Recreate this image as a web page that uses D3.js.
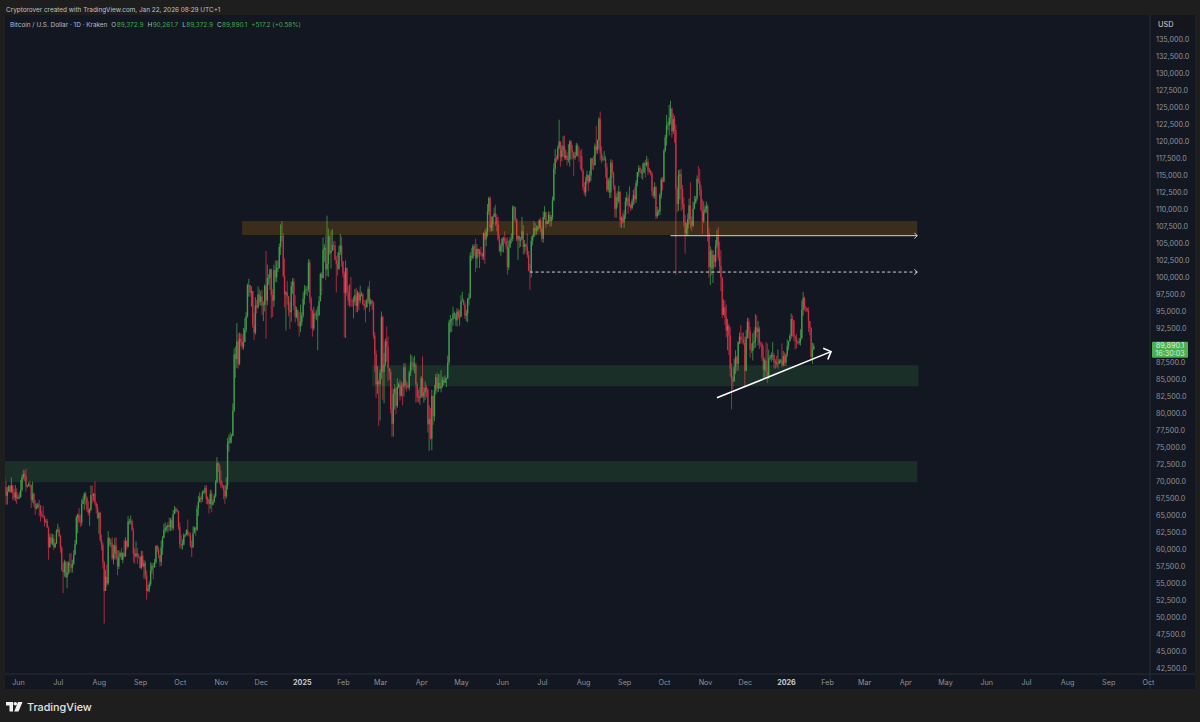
<!DOCTYPE html>
<html>
<head>
<meta charset="utf-8">
<script src="https://cdn.jsdelivr.net/npm/d3@7"></script>
<style>
  html, body { margin: 0; padding: 0; background: #1e1e1e; }
  svg { display: block; }
  text { font-family: Inter, Roboto, sans-serif; }
</style>
</head>
<body>
<svg id="chart" width="1200" height="722"></svg>
<script>
// daily candles in thousands of USD, first candle is 22 May 2024, one line per month
const firstDay = '2024-05-22';
const closes = [
  69.1,67.9,68.5,69.3,68.5,69.4,68.4,67.6,68.4,67.5,
  67.7,67.7,68.8,70.6,71.1,70.8,69.3,69.3,69.6,69.5,67.3,68.2,66.7,66.0,66.2,66.6,66.5,65.2,64.9,64.8,64.1,64.2,63.2,60.3,61.8,60.9,61.6,60.3,60.9,62.7,
  62.9,62.0,60.2,57.0,56.7,58.2,55.9,56.7,58.0,57.7,57.3,57.9,59.2,60.8,64.7,65.1,64.1,64.0,66.7,67.2,68.2,67.6,65.9,65.4,65.8,68.0,67.9,68.2,66.8,66.2,64.6,
  65.4,61.4,60.7,58.1,53.9,56.0,55.0,61.7,60.9,60.9,58.7,59.4,60.6,58.7,57.5,58.9,59.5,58.5,59.5,59.0,61.2,60.4,64.1,64.2,64.2,62.8,59.4,59.0,59.4,59.1,58.9,
  57.3,59.1,57.5,58.0,56.2,53.9,54.2,54.9,57.0,57.6,57.4,58.1,60.5,60.0,59.2,58.2,60.3,61.7,62.9,63.2,63.3,63.6,63.3,64.3,63.1,65.2,65.8,65.9,65.6,63.3,
  60.8,60.6,60.7,62.1,62.1,62.8,62.2,62.1,60.6,60.3,62.4,63.2,62.9,66.0,67.0,67.6,67.4,68.4,68.4,69.0,67.4,67.4,66.7,68.2,66.6,67.0,67.9,69.9,72.7,72.3,70.2,
  69.5,69.3,68.7,67.8,69.4,75.6,75.9,76.5,76.7,80.4,88.7,88.0,90.6,87.3,91.0,90.6,89.8,90.5,92.3,94.3,98.9,98.9,97.8,98.0,93.0,91.9,95.9,95.6,97.5,96.4,
  97.2,95.9,96.0,98.8,96.6,99.9,99.9,101.2,97.4,96.6,101.1,100.0,101.4,101.4,104.5,106.1,106.1,100.2,97.5,97.8,97.2,95.2,94.9,98.7,99.4,95.8,94.2,95.2,93.6,92.8,93.4,
  94.4,96.9,98.1,98.2,98.3,102.2,96.9,95.1,92.5,94.7,94.5,94.5,94.5,96.5,100.5,99.9,104.1,104.4,101.2,102.0,106.1,103.6,103.9,104.8,104.7,102.6,102.0,101.3,103.7,104.7,102.4,
  100.6,97.7,101.4,97.8,96.6,96.6,96.5,96.4,96.5,97.4,95.8,97.8,96.6,97.5,97.5,96.1,95.8,95.6,96.6,98.3,96.1,96.6,96.3,91.5,88.7,84.3,84.7,84.3,
  86.0,94.2,86.1,87.2,90.6,89.9,86.7,86.1,80.6,78.5,82.9,83.7,81.1,83.9,84.3,82.6,84.0,83.9,86.8,84.2,84.0,83.8,86.0,87.5,87.5,86.9,87.2,84.3,82.4,82.3,82.5,
  85.2,82.5,83.1,83.8,83.5,78.4,79.2,76.3,82.6,79.6,83.4,85.3,83.7,84.5,83.7,84.0,84.9,84.5,85.1,85.2,87.5,93.4,93.7,93.9,94.7,94.7,93.7,95.0,94.2,94.2,
  96.5,96.6,96.0,94.4,94.7,96.8,97.0,103.2,102.9,104.6,104.1,102.8,104.2,103.5,103.7,103.5,103.1,106.5,105.6,106.8,109.7,111.7,107.3,107.8,108.9,109.4,108.9,107.8,105.6,103.9,104.6,
  105.7,105.8,105.4,104.7,101.5,104.4,105.6,105.7,110.3,110.3,108.6,105.6,106.1,105.4,105.6,106.8,104.5,104.9,104.6,103.3,101.0,100.9,105.4,106.0,107.3,106.9,107.1,107.4,108.4,107.1,
  105.7,108.9,109.6,107.9,108.2,109.2,108.3,108.9,111.3,116.0,117.5,117.4,119.1,120.0,117.7,118.7,119.3,117.6,117.9,117.3,117.4,120.0,118.7,118.4,117.6,117.9,119.4,118.0,117.9,117.8,115.7,
  113.3,112.5,114.2,115.1,114.1,115.0,117.5,116.7,116.5,119.3,118.7,120.2,123.3,118.3,117.4,117.4,117.5,116.2,112.9,114.3,112.5,116.9,115.4,113.5,110.1,111.8,111.2,112.6,108.4,108.8,108.2,
  109.2,111.2,111.7,110.7,110.7,110.2,111.2,112.1,111.5,113.9,115.5,116.1,115.9,115.3,115.4,116.8,116.5,117.0,115.7,115.7,115.3,112.7,112.0,113.3,109.0,109.7,109.7,112.1,114.4,114.1,
  118.6,120.6,122.3,122.4,123.5,124.8,121.5,123.3,121.7,113.0,110.8,115.0,115.2,113.0,110.8,108.2,106.5,107.2,108.6,110.6,108.4,107.6,110.1,111.0,111.6,114.5,114.1,112.9,110.0,108.3,109.6,
  110.1,110.5,106.5,101.5,103.9,101.3,103.3,102.3,104.7,106.0,103.0,101.7,100.0,94.5,95.6,94.2,92.2,92.9,91.5,86.6,85.1,84.7,86.8,88.3,87.3,90.5,91.3,90.9,90.8,90.4,
  86.3,91.3,93.5,92.1,89.4,89.2,90.4,90.6,92.7,92.0,92.5,90.3,90.2,88.2,86.4,87.8,86.1,85.5,88.1,88.3,88.6,88.6,87.5,87.6,87.2,87.3,87.8,87.8,87.1,88.4,87.5,
  88.7,89.9,90.6,91.4,93.9,93.7,91.3,91.0,90.5,90.4,90.6,91.1,95.3,97.0,95.6,95.5,95.1,93.6,92.6,88.3,89.4,89.9
];
const highs = [
  70.6,70.0,69.2,69.5,69.5,70.6,69.5,68.9,69.5,69.0,
  68.0,68.4,70.2,71.0,71.7,71.6,71.9,69.5,69.9,70.1,69.5,70.0,68.4,67.3,66.8,66.9,67.3,66.5,65.7,66.4,65.0,64.5,64.5,63.4,62.3,62.4,62.3,62.2,61.0,63.0,
  63.8,63.3,62.2,60.5,58.0,58.5,58.3,58.2,58.3,59.4,59.5,58.5,59.9,61.4,65.0,65.3,66.1,65.1,67.4,67.8,68.4,68.5,67.8,67.1,66.1,69.4,69.4,68.3,70.0,67.0,66.7,
  65.6,65.5,62.2,61.0,58.3,57.0,57.8,62.7,61.8,61.5,61.8,60.7,61.7,61.8,59.9,59.9,59.7,60.2,59.6,61.4,61.8,61.4,64.9,64.5,65.0,64.4,63.2,60.2,61.2,60.2,59.4,
  58.9,59.8,59.8,58.5,58.3,56.9,54.8,55.3,58.1,58.0,58.0,58.6,60.6,60.7,60.4,59.2,61.3,62.0,63.8,64.0,63.5,64.0,64.7,64.6,64.8,65.8,66.4,66.2,66.0,65.7,
  64.0,62.2,61.5,62.4,62.3,63.0,64.4,62.6,62.5,61.3,63.4,63.4,63.3,66.5,67.9,68.4,67.9,68.7,68.7,69.4,69.5,67.8,67.4,68.8,68.7,67.4,68.2,70.2,73.6,72.9,72.6,
  71.6,70.0,69.5,69.5,70.6,76.4,76.9,77.2,77.0,81.5,89.6,89.9,93.3,91.8,91.9,91.8,91.7,92.6,94.0,94.9,99.1,99.8,98.8,98.7,94.6,94.8,97.1,96.7,98.7,98.3,
  98.0,98.2,96.5,99.0,103.9,101.9,100.5,101.3,101.3,98.3,101.9,102.5,102.5,102.5,105.0,107.8,108.3,106.5,102.8,98.0,99.5,97.3,96.4,99.4,99.9,99.9,97.4,95.7,95.3,94.9,96.0,
  94.9,97.8,98.9,98.7,98.8,102.7,102.6,97.2,95.3,95.7,95.0,95.3,95.8,97.3,100.7,100.8,105.9,104.9,106.2,109.1,107.2,106.3,106.9,107.1,105.3,105.4,103.2,103.7,104.7,106.4,106.0,
  102.0,100.9,102.5,101.5,98.8,99.0,100.1,96.9,97.2,98.3,98.5,98.1,97.2,98.8,97.9,97.7,96.7,96.7,96.9,98.7,99.5,96.9,96.7,96.5,92.0,89.3,87.0,85.0,
  86.5,95.0,94.4,88.9,91.0,92.8,91.3,86.7,86.5,84.0,83.6,84.3,84.0,85.2,84.6,85.0,84.7,84.5,87.4,87.4,84.8,84.5,86.3,88.7,88.5,88.2,88.5,87.5,84.6,83.5,83.9,
  85.5,88.4,83.9,84.7,84.2,83.8,81.2,80.8,83.5,82.6,84.2,85.8,86.0,85.8,85.8,86.4,85.4,85.4,85.6,85.3,88.5,93.8,94.5,94.0,95.7,95.0,94.3,95.5,95.4,95.2,
  97.4,97.9,96.9,96.3,95.2,97.0,97.7,103.7,104.3,104.9,104.9,105.7,104.9,104.3,104.2,104.5,103.6,106.6,107.0,107.3,110.8,111.9,111.9,109.0,109.1,110.3,110.7,109.3,108.9,106.3,105.0,
  105.9,106.0,106.8,105.9,105.9,105.4,106.0,106.5,110.6,110.5,110.4,108.7,106.2,106.2,106.0,108.9,107.7,105.5,105.0,106.5,103.9,102.0,106.1,106.3,108.3,108.0,107.7,107.6,108.6,108.8,
  107.5,109.7,110.5,109.7,108.4,109.7,109.7,109.2,111.9,116.8,118.9,118.0,119.4,123.2,120.0,119.5,120.8,120.9,118.8,118.4,119.6,120.2,120.2,119.5,118.4,118.5,119.8,119.7,119.2,118.7,118.9,
  116.0,114.0,114.8,115.7,115.1,115.7,117.6,117.6,117.9,119.7,122.3,120.3,123.6,124.4,119.3,117.9,118.6,117.9,116.8,114.6,114.8,117.4,117.3,115.6,113.6,112.4,112.7,113.5,112.7,109.0,109.5,
  109.9,111.8,112.6,112.2,113.4,110.9,111.6,112.9,113.3,114.3,115.5,116.5,116.4,116.0,116.8,117.0,117.3,117.9,117.5,116.1,115.8,115.5,113.3,114.0,113.5,110.4,110.0,112.4,114.7,114.8,
  118.9,121.0,123.9,122.9,125.4,126.0,125.0,124.1,123.8,122.5,113.4,115.8,115.9,116.0,113.6,111.8,109.2,108.0,109.4,111.6,114.0,109.0,111.2,112.0,112.0,115.0,116.4,116.0,113.6,111.5,111.2,
  110.6,111.2,110.8,107.3,104.6,104.2,104.0,103.4,105.5,107.0,107.4,105.3,104.0,99.9,96.8,96.6,96.0,93.9,93.2,92.7,87.4,85.5,88.0,89.3,88.5,90.6,91.9,93.0,91.9,91.9,
  91.3,92.3,94.1,94.0,92.7,90.3,91.8,92.2,94.6,94.4,93.6,92.8,90.6,90.5,90.0,88.2,90.5,90.3,89.4,88.6,89.0,90.5,88.9,88.0,88.5,89.4,88.0,88.0,90.3,89.2,89.0,
  88.8,90.9,90.7,91.7,94.7,94.4,93.6,91.5,91.7,90.7,91.1,92.4,96.6,97.9,97.2,95.8,95.5,95.6,93.4,92.7,90.4,90.3
];
const lows = [
  69.0,66.6,66.6,68.5,68.3,68.3,67.3,67.2,67.1,66.7,
  67.4,67.4,67.6,68.5,70.3,70.1,68.5,69.1,69.3,69.1,66.1,66.9,66.3,65.1,65.9,66.1,64.9,64.1,64.7,64.6,63.4,63.9,63.2,58.5,60.6,60.7,60.6,59.9,60.3,60.8,
  62.5,61.8,59.5,56.8,53.6,56.0,55.8,54.3,56.3,56.5,56.6,56.6,57.7,59.5,60.7,62.4,63.9,63.3,63.5,66.7,65.8,66.6,65.5,65.0,63.5,65.7,66.8,67.1,66.5,65.3,64.5,
  62.3,61.1,59.9,57.2,49.1,53.9,54.6,54.8,60.5,60.3,58.4,57.8,58.5,58.5,56.2,57.1,58.9,58.5,58.0,58.8,58.9,60.0,60.3,63.7,63.7,62.8,58.1,57.9,58.8,57.9,58.7,
  57.2,57.1,57.4,55.7,55.6,52.6,53.8,53.7,54.6,56.4,55.6,57.3,57.9,59.6,58.7,57.5,57.6,59.2,61.8,62.4,62.7,62.5,62.7,62.7,62.8,62.8,65.2,65.4,65.5,62.9,
  60.2,60.0,60.0,60.6,61.8,62.1,62.0,61.9,60.3,58.9,60.3,62.5,62.0,62.7,64.9,66.9,66.8,67.0,68.2,68.1,66.7,66.6,65.3,66.0,65.5,66.5,66.9,67.6,69.7,71.4,69.7,
  69.0,69.0,67.4,66.7,67.5,68.8,74.4,75.6,75.6,76.7,80.2,85.2,86.7,86.6,87.1,90.0,89.4,89.4,90.9,91.9,94.1,97.2,97.2,95.7,92.6,90.8,91.6,94.7,95.4,96.0,
  95.8,94.5,93.6,95.0,91.0,95.9,98.9,98.2,94.0,94.2,95.7,99.3,99.3,100.8,101.3,103.3,105.3,100.0,95.6,92.2,96.0,94.3,92.4,93.5,97.6,95.2,93.4,94.0,92.9,91.3,92.0,
  92.9,94.1,96.0,97.5,97.3,97.9,96.2,92.5,91.3,92.2,93.9,93.7,89.3,94.3,96.5,97.4,100.2,102.3,99.6,100.2,100.1,103.3,101.3,103.9,104.0,102.5,97.8,100.3,101.1,103.3,101.6,
  100.0,91.2,91.1,97.3,95.9,95.7,95.7,95.7,94.0,95.9,94.9,94.9,95.2,96.2,97.2,95.9,95.2,93.4,95.6,96.2,94.9,95.8,95.2,91.0,86.1,82.3,82.9,78.2,
  79.0,85.1,82.0,81.5,86.9,87.6,84.8,85.0,80.0,76.6,76.6,80.6,79.9,80.8,83.7,81.9,82.5,81.2,82.5,83.6,83.2,83.7,83.4,85.5,86.4,86.3,85.9,81.6,81.7,81.6,81.3,
  82.3,82.3,81.6,82.0,82.4,77.2,74.5,76.2,74.6,78.3,78.9,82.8,83.1,83.2,83.6,83.1,83.8,84.1,84.5,83.9,85.1,87.1,91.9,92.0,92.9,93.9,92.9,92.8,93.9,92.9,
  94.2,96.4,95.9,93.9,93.6,93.4,95.9,96.9,102.4,102.7,103.2,100.8,101.4,103.0,101.4,103.1,102.6,102.6,102.0,104.6,106.0,109.2,106.7,106.8,106.8,108.9,107.6,106.8,105.4,103.7,103.2,
  103.7,103.7,105.0,104.2,100.4,101.1,104.9,105.0,105.3,108.3,108.1,105.3,102.6,104.3,104.5,105.5,103.4,103.5,103.9,102.9,100.9,98.2,100.0,104.7,105.9,106.2,106.3,106.8,107.2,106.7,
  105.2,105.1,108.5,107.3,107.8,107.9,107.5,107.5,108.4,111.3,115.2,116.9,117.2,118.9,116.3,117.1,117.8,117.3,117.3,116.5,116.9,116.3,117.3,117.4,114.9,117.3,117.8,117.7,117.0,115.9,115.6,
  112.8,112.1,111.9,113.7,112.7,113.9,114.2,115.9,115.8,116.5,118.1,118.2,118.9,117.2,116.8,117.1,117.2,114.7,112.6,112.5,111.7,111.7,114.7,112.9,108.8,108.8,110.3,110.9,107.4,107.3,107.9,
  107.3,108.6,110.5,109.4,110.4,109.8,110.0,110.6,110.8,111.0,113.4,114.8,115.3,114.6,114.4,115.4,114.7,116.3,115.1,115.4,115.0,112.0,111.6,111.6,108.6,108.7,109.1,109.2,111.6,112.8,
  114.0,118.4,119.4,121.7,120.9,122.5,120.6,121.1,119.8,100.4,109.6,109.8,111.5,109.8,110.0,107.5,103.5,106.2,106.1,107.8,107.2,106.8,107.4,110.0,110.8,111.3,113.8,112.0,109.7,106.4,108.0,
  109.4,109.5,105.3,100.0,98.9,100.3,99.2,101.5,101.5,104.3,102.5,100.7,98.0,94.0,94.6,93.0,91.2,89.3,88.6,85.4,80.6,83.5,85.2,85.8,86.2,86.3,90.2,90.2,90.3,90.1,
  83.9,86.2,91.0,91.0,88.2,88.9,87.8,89.5,89.7,91.2,90.0,89.5,89.8,87.7,85.2,85.3,85.3,84.5,85.1,87.9,87.6,87.9,86.6,86.6,86.8,86.6,87.3,87.4,86.8,86.9,87.0,
  87.0,88.3,89.3,90.6,91.0,91.3,90.6,89.4,89.6,90.2,90.1,90.0,90.9,94.4,95.1,94.9,94.9,92.0,91.5,87.8,87.3,89.4
];

const priceTicks = [135000,132500,130000,127500,125000,122500,120000,117500,115000,112500,110000,107500,105000,102500,100000,97500,95000,92500,87500,85000,82500,80000,77500,75000,72500,70000,67500,65000,62500,60000,57500,55000,52500,50000,47500,45000,42500];
const monthTicks = ['2024-06-01','2024-07-01','2024-08-01','2024-09-01','2024-10-01','2024-11-01','2024-12-01','2025-01-01','2025-02-01','2025-03-01','2025-04-01','2025-05-01','2025-06-01','2025-07-01','2025-08-01','2025-09-01','2025-10-01','2025-11-01','2025-12-01','2026-01-01','2026-02-01','2026-03-01','2026-04-01','2026-05-01','2026-06-01','2026-07-01','2026-08-01','2026-09-01','2026-10-01'];

// drawings on the chart, in dates and prices
const zones = [
  { from: '2024-11-17', to: '2026-04-10', top: 108300, bottom: 106250, fill: '#ff9800', op: 0.17 },
  { from: '2025-02-23', to: '2026-04-11', top: 87100, bottom: 84000, fill: '#4caf50', op: 0.16 },
  { from: '2024-05-20', to: '2026-04-10', top: 73000, bottom: 69900, fill: '#4caf50', op: 0.16 }
];
const rays = [
  { from: '2025-10-06', to: '2026-04-10', price: 106150, dash: null },
  { from: '2025-06-22', to: '2026-04-10', price: 100800, dash: '3,2.5' }
];
const trend = { from: '2025-11-10', to: '2026-02-04', p0: 82300, p1: 89100 };

const lastPrice = '89,890.1';
const countdown = '16:30:03';
const ohlc = [['O','89,372.9'],['H','90,261.7'],['L','89,372.9'],['C','89,890.1']];

const W = 1200, H = 722;
const panel = { left: 5, right: 1150, top: 15, bottom: 674, axisRight: 1195, axisBottom: 689 };

const bull = '#46a850', bear = '#e0304a';
const svg = d3.select('#chart');

const parse = d3.utcParse('%Y-%m-%d');
const x = d3.scaleUtc().domain([parse('2024-06-01'), parse('2026-10-01')]).range([18, 1148]);
const y = d3.scaleLinear().domain([42500, 135000]).range([668.5, 39.5]);

const start = parse(firstDay);
const candles = closes.map((c, i) => {
  const open = i ? closes[i - 1] : c;
  return {
    date: d3.utcDay.offset(start, i),
    open: open * 1000,
    close: c * 1000,
    high: Math.max(highs[i], open, c) * 1000,
    low: Math.min(lows[i], open, c) * 1000
  };
});

// frame
svg.append('rect').attr('width', W).attr('height', H).attr('fill', '#1e1e1e');
svg.append('rect').attr('x', panel.left).attr('y', panel.top)
  .attr('width', panel.axisRight - panel.left).attr('height', panel.axisBottom - panel.top)
  .attr('fill', '#131722');
svg.append('line').attr('x1', panel.right).attr('x2', panel.right).attr('y1', panel.top).attr('y2', panel.axisBottom).attr('stroke', '#2a2e39');
svg.append('line').attr('x1', panel.left).attr('x2', panel.axisRight).attr('y1', panel.bottom).attr('y2', panel.bottom).attr('stroke', '#2a2e39');

const defs = svg.append('defs');
defs.append('clipPath').attr('id', 'plot').append('rect')
  .attr('x', panel.left).attr('y', panel.top)
  .attr('width', panel.right - panel.left).attr('height', panel.bottom - panel.top);
// the reference is a soft screenshot, candles bleed into each other
defs.append('filter').attr('id', 'soft').attr('x', '-2%').attr('y', '-2%').attr('width', '104%').attr('height', '104%')
  .append('feGaussianBlur').attr('stdDeviation', 0.3);

const plot = svg.append('g').attr('clip-path', 'url(#plot)');
const candleLayer = plot.append('g').attr('filter', 'url(#soft)');

const color = d => d.close >= d.open ? bull : bear;

candleLayer.append('g').selectAll('line').data(candles).join('line')
  .attr('x1', d => x(d.date)).attr('x2', d => x(d.date))
  .attr('y1', d => y(d.high)).attr('y2', d => y(d.low))
  .attr('stroke', color).attr('stroke-width', 0.8).attr('stroke-opacity', 0.9);

candleLayer.append('g').selectAll('rect').data(candles).join('rect')
  .attr('x', d => x(d.date) - 0.7).attr('width', 1.4)
  .attr('y', d => y(Math.max(d.open, d.close)))
  .attr('height', d => Math.max(0.6, Math.abs(y(d.open) - y(d.close))))
  .attr('fill', color).attr('fill-opacity', 0.8);

// zones sit over the candles
plot.append('g').selectAll('rect').data(zones).join('rect')
  .attr('x', d => x(parse(d.from))).attr('width', d => x(parse(d.to)) - x(parse(d.from)))
  .attr('y', d => y(d.top)).attr('height', d => y(d.bottom) - y(d.top))
  .attr('fill', d => d.fill).attr('fill-opacity', d => d.op);

const chevron = (tipX, tipY, angle, len, spread) => {
  const a1 = angle + Math.PI - spread, a2 = angle + Math.PI + spread;
  return `M${tipX + len * Math.cos(a1)},${tipY + len * Math.sin(a1)}L${tipX},${tipY}L${tipX + len * Math.cos(a2)},${tipY + len * Math.sin(a2)}`;
};

rays.forEach(r => {
  const x0 = x(parse(r.from)), x1 = x(parse(r.to)), py = y(r.price);
  plot.append('line').attr('x1', x0).attr('x2', x1).attr('y1', py).attr('y2', py)
    .attr('stroke', '#e8e8e8').attr('stroke-width', 0.9).attr('stroke-dasharray', r.dash);
  plot.append('path').attr('d', chevron(x1, py, 0, 4, 0.8))
    .attr('fill', 'none').attr('stroke', '#dcdcdc').attr('stroke-width', 0.9);
});

{
  const x0 = x(parse(trend.from)), x1 = x(parse(trend.to));
  const y0 = y(trend.p0), y1 = y(trend.p1);
  plot.append('line').attr('x1', x0).attr('x2', x1).attr('y1', y0).attr('y2', y1)
    .attr('stroke', '#fff').attr('stroke-width', 1.6);
  plot.append('path').attr('d', chevron(x1, y1, Math.atan2(y1 - y0, x1 - x0), 8.5, 0.8))
    .attr('fill', 'none').attr('stroke', '#fff').attr('stroke-width', 1.6);
}

// price axis
const yAxis = d3.axisRight(y).tickValues(priceTicks).tickSize(0).tickPadding(0)
  .tickFormat(d => d3.format(',.1f')(d));
const yg = svg.append('g').attr('transform', `translate(${panel.right + 6},0)`).call(yAxis);
yg.select('.domain').remove();
yg.selectAll('text').attr('fill', '#8f929b').attr('font-size', 7.2).attr('font-family', 'Inter, Roboto, sans-serif');

// time axis
const xAxis = d3.axisBottom(x).tickValues(monthTicks.map(parse)).tickSize(0).tickPadding(0)
  .tickFormat(d => d.getUTCMonth() === 0 ? d3.utcFormat('%Y')(d) : d3.utcFormat('%b')(d));
const xg = svg.append('g').attr('transform', `translate(0,${panel.bottom + 6})`).call(xAxis);
xg.select('.domain').remove();
xg.selectAll('text').attr('font-size', 7.2).attr('font-family', 'Inter, Roboto, sans-serif')
  .attr('font-weight', d => d.getUTCMonth() === 0 ? 700 : 400)
  .attr('fill', d => d.getUTCMonth() === 0 ? '#c8cad0' : '#8f929b');

// USD button
svg.append('rect').attr('x', 1153).attr('y', 18).attr('width', 39).attr('height', 12).attr('rx', 2).attr('fill', '#16161a');
svg.append('text').attr('x', 1158).attr('y', 26.5).attr('fill', '#d1d4dc').attr('font-size', 7.4).text('USD');

// last price tag
const tagY = y(89890);
svg.append('rect').attr('x', 1152).attr('y', tagY - 4.5).attr('width', 36).attr('height', 16).attr('rx', 1).attr('fill', '#4bb050');
svg.append('text').attr('x', 1170).attr('y', tagY + 2).attr('text-anchor', 'middle').attr('fill', '#dff3e0').attr('font-size', 7.2).text(lastPrice);
svg.append('text').attr('x', 1170).attr('y', tagY + 9.5).attr('text-anchor', 'middle').attr('fill', '#d3eed5').attr('font-size', 7.2).text(countdown);

// header
svg.append('text').attr('x', 6).attr('y', 11.5).attr('fill', '#c0c0c0').attr('font-size', 6.4)
  .text('Cryptorover created with TradingView.com, Jan 22, 2026 08:29 UTC+1');

const legend = svg.append('text').attr('x', 10).attr('y', 26.5).attr('font-size', 6.4).attr('fill', '#b8bbc3');
legend.append('tspan').text('Bitcoin / U.S. Dollar · 1D · Kraken');
ohlc.forEach(o => {
  legend.append('tspan').attr('dx', 4).text(o[0]);
  legend.append('tspan').attr('dx', 0.5).attr('fill', bull).text(o[1]);
});
legend.append('tspan').attr('dx', 4).attr('fill', bull).text('+517.2 (+0.58%)');

// logo
const logo = svg.append('g').attr('transform', 'translate(6,702)').attr('fill', '#f0f0f0');
logo.append('path').attr('d', 'M0,0H7V9.5H3.5V3.5H0Z');
logo.append('circle').attr('cx', 9.3).attr('cy', 1.8).attr('r', 1.8);
logo.append('path').attr('d', 'M12,0H16.5L12.5,9.5H8.2Z');
svg.append('text').attr('x', 27).attr('y', 710.5).attr('fill', '#e4e4e4').attr('font-size', 10.8).attr('font-weight', 500).text('TradingView');
</script>
</body>
</html>
